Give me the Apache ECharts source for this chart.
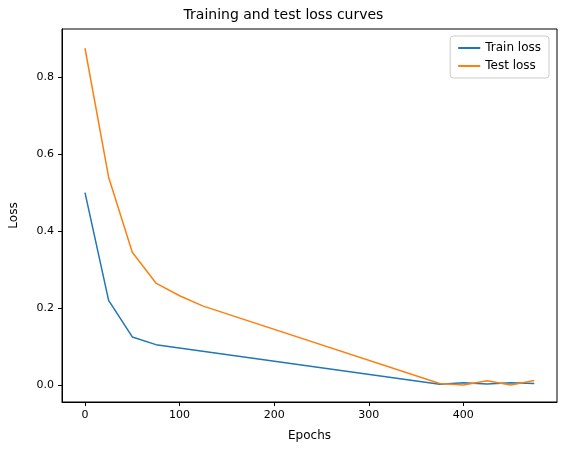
<!DOCTYPE html><html><head><meta charset="utf-8"><script src="https://cdn.jsdelivr.net/npm/echarts@6/dist/echarts.min.js"></script></head><body style="margin:0"><div id="c" style="width:567px;height:455px"></div><script>
const trainLoss=[[0,0.5],[25,0.22],[50,0.125],[75,0.105],[375,0.002],[400,0.006],[425,0.003],[450,0.006],[475,0.004]];
const testLoss=[[0,0.875],[25,0.54],[50,0.345],[75,0.265],[100,0.232],[125,0.205],[375,0.004],[400,0.0],[425,0.011],[450,0.0],[475,0.012]];
const xTicks=[0,100,200,300,400];
const yTicks=[0,0.2,0.4,0.6,0.8];
const f='DejaVu Sans';
const ax={show:true,onZero:false,lineStyle:{color:'#000',width:1}};
const c=echarts.init(document.getElementById('c'));
c.setOption({animation:false,textStyle:{fontFamily:f},
title:{text:'Training and test loss curves',left:'center',top:3,textStyle:{fontFamily:f,fontSize:14,fontWeight:'normal',color:'#000'}},
legend:{right:18,top:36,orient:'vertical',itemWidth:22,itemHeight:2,icon:'rect',itemGap:6,padding:[6,8],borderColor:'#ccc',borderWidth:1,borderRadius:3,textStyle:{fontSize:12,color:'#000'},data:['Train loss','Test loss']},
grid:{left:61,right:10,top:29,bottom:53,show:true,borderColor:'#000',borderWidth:1},
xAxis:{type:'value',min:-24.3,max:499,name:'Epochs',nameLocation:'middle',nameGap:28,nameTextStyle:{fontSize:12,color:'#000'},axisLine:ax,splitLine:{show:false},
axisLabel:{color:'#000',fontSize:11,customValues:xTicks,formatter:v=>v},axisTick:{show:true,customValues:xTicks,length:4,lineStyle:{color:'#000'}}},
yAxis:{type:'value',min:-0.044,max:0.925,name:'Loss',nameLocation:'middle',nameGap:42,nameTextStyle:{fontSize:12,color:'#000'},axisLine:ax,splitLine:{show:false},
axisLabel:{color:'#000',fontSize:11,customValues:yTicks,formatter:v=>v.toFixed(1)},axisTick:{show:true,customValues:yTicks,length:4,lineStyle:{color:'#000'}}},
series:[{name:'Train loss',type:'line',data:trainLoss,showSymbol:false,color:'#1f77b4',lineStyle:{width:1.5}},
{name:'Test loss',type:'line',data:testLoss,showSymbol:false,color:'#ff7f0e',lineStyle:{width:1.5}}]});
</script></body></html>
